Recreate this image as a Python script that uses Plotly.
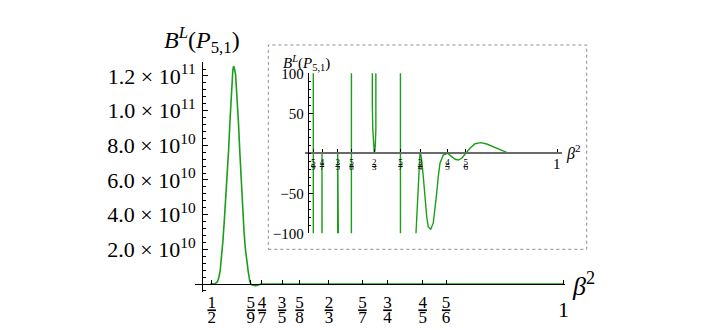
import plotly.graph_objects as go

# ---------------- data ----------------
beta2 = [0.498, 0.505, 0.508, 0.510, 0.512, 0.514, 0.516, 0.518, 0.520, 0.522,
         0.524, 0.526, 0.528, 0.530, 0.531, 0.532, 0.534, 0.536, 0.538, 0.540,
         0.542, 0.544, 0.546, 0.548, 0.550, 0.552, 0.554, 0.5545,
         0.5556, 0.5567, 0.5590, 0.5616, 0.5645, 0.5670, 0.5700, 0.5714, 0.5728,
         0.5860, 0.5986, 0.6000, 0.6014, 0.6120, 0.6240, 0.6250, 0.6260, 0.6450,
         0.6620, 0.6625, 0.6631, 0.6639, 0.6649, 0.6659, 0.6667, 0.6675, 0.6685,
         0.6695, 0.6703, 0.6709, 0.6714, 0.6900, 0.7133, 0.7143, 0.7153, 0.7280,
         0.7390, 0.7426, 0.7486, 0.7499, 0.7515, 0.7530, 0.7559, 0.7590, 0.7621,
         0.7650, 0.7694, 0.7741, 0.7772, 0.7803, 0.7832, 0.7863, 0.7923, 0.8000,
         0.8077, 0.8140, 0.8197, 0.8259, 0.8333, 0.8410, 0.8501, 0.8605, 0.8714,
         0.8834, 0.8956, 0.9078, 0.9169, 0.9400, 1.0000]
bl = [0.0, 2e8, 1.2e9, 3.5e9, 7.5e9, 1.5e10, 2.5e10, 3.7e10, 5.0e10, 6.0e10,
      7.7e10, 9.4e10, 11.2e10, 12.3e10, 12.56e10, 12.5e10, 12.06e10, 10.9e10, 9.36e10, 7.6e10,
      5.9e10, 4.3e10, 3.0e10, 2.0e10, 1.2e10, 7.0e9, 2.0e9, 1.5e8,
      0.0, -4e8, -9e8, -1.0e9, -8e8, -3e8, -2000, 0, -2000,
      -1e5, -2000, 0, -2000, -1e5, -2000, 0, 2000, 1e5,
      160, 100, 60, 30, 10, 2, 0, 2, 10,
      30, 60, 100, 160, 1e5, 2000, 0, -2000, -1e5,
      -400, -100, -2, 0.5, -2, -8.4, -29, -58, -79,
      -92, -95, -87, -71, -50, -29, -12.5, -2.1, 0,
      -4.2, -7.5, -8.4, -6.2, 0, 6.2, 12.0, 13.3, 11.6,
      8.3, 4.1, 1.2, 0.1, 0, 0]

frac_vals = [1/2, 5/9, 4/7, 3/5, 5/8, 2/3, 5/7, 3/4, 4/5, 5/6]
frac_num = ["1", "5", "4", "3", "5", "2", "5", "3", "4", "5"]
frac_den = ["2", "9", "7", "5", "8", "3", "7", "4", "5", "6"]

main_y_vals = [2e10, 4e10, 6e10, 8e10, 1.0e11, 1.2e11]
main_y_text = ["2.0 × 10<sup>10</sup>", "4.0 × 10<sup>10</sup>", "6.0 × 10<sup>10</sup>",
               "8.0 × 10<sup>10</sup>", "1.0 × 10<sup>11</sup>", "1.2 × 10<sup>11</sup>"]
inset_y_vals = [-100, -50, 50, 100]
inset_y_text = ["−100", "−50", "50", "100"]

# ---------------- layout helpers ----------------
W, H = 708, 330
def px(x):
    return x / W
def py(y):
    return 1 - y / H

FONT = "Liberation Serif"
GREEN = "#1a9f1a"

fig = go.Figure()
fig.add_trace(go.Scatter(x=beta2, y=bl, xaxis="x", yaxis="y", mode="lines",
                         line=dict(color=GREEN, width=1.6), hoverinfo="skip"))
fig.add_trace(go.Scatter(x=beta2, y=bl, xaxis="x2", yaxis="y2", mode="lines",
                         line=dict(color=GREEN, width=1.4), hoverinfo="skip"))
# carriers for the denominator rows of the fraction tick labels
fig.add_trace(go.Scatter(x=[], y=[], xaxis="x3", yaxis="y3", mode="lines"))
fig.add_trace(go.Scatter(x=[], y=[], xaxis="x4", yaxis="y4", mode="lines"))

# main: 703.2 px per unit of beta^2, beta^2 = 1/2 at x = 211.7 px
main_xdom = [px(195), px(565)]
main_xrange = [0.5 - (211.7 - 195) / 703.2, 1 + (565 - 563.3) / 703.2]
# main y: 34.67 px per 2e10, zero at y = 284 px
main_ydom = [py(292), py(62)]
main_yrange = [-(292 - 284) / 34.67 * 2e10, (284 - 62) / 34.67 * 2e10]
# inset: 549 px per unit, beta^2 = 1 at x = 557.3 px; 80 px per 100
inset_xdom = [px(305), px(562)]
inset_xrange = [1 - (557.3 - 305) / 549, 1 + (562 - 557.3) / 549]
inset_ydom = [py(233.3), py(73.3)]

common = dict(showgrid=False, zeroline=False, tickangle=0, automargin=False)

fig.update_layout(
    width=W, height=H, margin=dict(l=0, r=0, t=0, b=0, autoexpand=False),
    paper_bgcolor="white", plot_bgcolor="rgba(0,0,0,0)", showlegend=False,
    font=dict(family=FONT, color="black"),
    xaxis=dict(domain=main_xdom, range=main_xrange, anchor="free", position=py(284),
               showline=True, linecolor="black", linewidth=1,
               ticks="inside", ticklen=4, tickcolor="black",
               tickvals=frac_vals + [1.0],
               ticktext=["<u>%s</u>" % n for n in frac_num] + [""],
               tickfont=dict(family=FONT, size=17), ticklabelstandoff=3, **common),
    yaxis=dict(domain=main_ydom, range=main_yrange, anchor="free", position=px(202),
               showline=True, linecolor="black", linewidth=1,
               ticks="inside", ticklen=5, tickcolor="black",
               tickvals=main_y_vals, ticktext=main_y_text,
               tickfont=dict(family=FONT, size=22), ticklabelstandoff=2,
               minor=dict(ticks="inside", ticklen=3, tickmode="linear", tick0=0,
                          dtick=4e9, tickcolor="black", showgrid=False),
               showgrid=False, zeroline=False, automargin=False),
    xaxis3=dict(domain=main_xdom, range=main_xrange, anchor="free",
                position=py(305), showline=False, ticks="",
                tickvals=frac_vals, ticktext=frac_den,
                tickfont=dict(family=FONT, size=17), **common),
    yaxis3=dict(domain=main_ydom, range=[0, 1], anchor="x3", visible=False,
                showgrid=False, zeroline=False, automargin=False),
    xaxis2=dict(domain=inset_xdom, range=inset_xrange, anchor="free",
                position=py(153.3), showline=True, linecolor="#6a6a6a", linewidth=2,
                ticks="inside", ticklen=3, tickcolor="black",
                tickvals=frac_vals[1:] + [1.0],
                ticktext=["<u>%s</u>" % n for n in frac_num[1:]] + [""],
                tickfont=dict(family=FONT, size=9), **common),
    yaxis2=dict(domain=inset_ydom, range=[-100, 100], anchor="free", position=px(307.7),
                showline=True, linecolor="black", linewidth=1,
                ticks="inside", ticklen=4, tickcolor="black",
                tickvals=inset_y_vals, ticktext=inset_y_text,
                tickfont=dict(family=FONT, size=15), ticklabelstandoff=1,
                minor=dict(ticks="inside", ticklen=2, tickmode="linear", tick0=0,
                           dtick=10, tickcolor="black", showgrid=False),
                showgrid=False, zeroline=False, automargin=False),
    xaxis4=dict(domain=inset_xdom, range=inset_xrange, anchor="free",
                position=py(160), showline=False, ticks="",
                tickvals=frac_vals[1:], ticktext=frac_den[1:],
                tickfont=dict(family=FONT, size=9), **common),
    yaxis4=dict(domain=inset_ydom, range=[0, 1], anchor="x4", visible=False,
                showgrid=False, zeroline=False, automargin=False),
    shapes=[dict(type="rect", xref="paper", yref="paper",
                 x0=px(268.3), x1=px(586.7), y0=py(249.3), y1=py(45),
                 line=dict(color="#8c8c8c", width=1, dash="dot"), layer="below")],
)

title_txt = "<i>B</i><sup><i>L</i></sup>(<i>P</i><sub>5,1</sub>)"
fig.add_annotation(text=title_txt, xref="paper", yref="paper", x=px(201.5), y=py(40),
                   xanchor="center", yanchor="middle", showarrow=False,
                   font=dict(family=FONT, size=24))
fig.add_annotation(text=title_txt, xref="paper", yref="paper", x=px(281), y=py(63),
                   xanchor="left", yanchor="middle", showarrow=False,
                   font=dict(family=FONT, size=15))
fig.add_annotation(text="<i>β</i><sup>2</sup>", xref="paper", yref="paper", x=px(570),
                   y=py(284), xanchor="left", yanchor="middle", showarrow=False,
                   font=dict(family=FONT, size=26))
fig.add_annotation(text="<i>β</i><sup>2</sup>", xref="paper", yref="paper", x=px(564),
                   y=py(152), xanchor="left", yanchor="middle", showarrow=False,
                   font=dict(family=FONT, size=16))
fig.add_annotation(text="1", xref="x", yref="paper", x=1.0, y=py(309.5),
                   xanchor="center", yanchor="middle", showarrow=False,
                   font=dict(family=FONT, size=22))
fig.add_annotation(text="1", xref="x2", yref="paper", x=1.0, y=py(164),
                   xanchor="center", yanchor="middle", showarrow=False,
                   font=dict(family=FONT, size=15))

fig.write_html("out.html", config={"displayModeBar": False},
               post_script="document.body.style.margin='0';")
